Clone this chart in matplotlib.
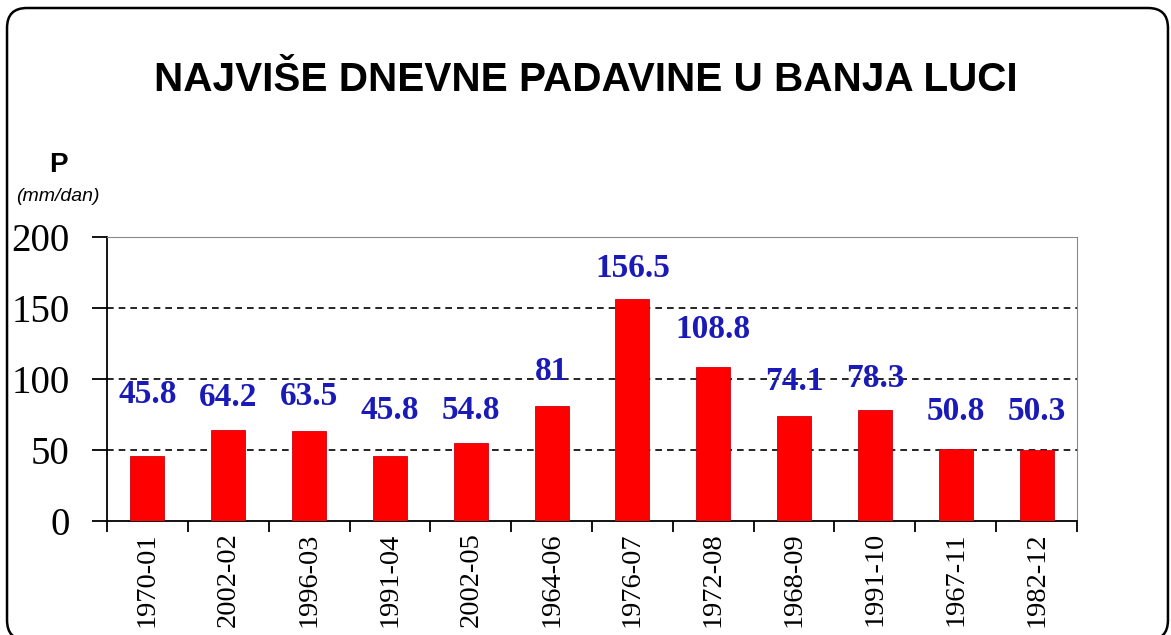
import matplotlib
matplotlib.use("Agg")
import matplotlib.pyplot as plt
from matplotlib.patches import FancyBboxPatch
import numpy as np

# Largest daily precipitation per month, Banja Luka
months = ["1970-01", "2002-02", "1996-03", "1991-04", "2002-05", "1964-06",
          "1976-07", "1972-08", "1968-09", "1991-10", "1967-11", "1982-12"]
precip = [45.8, 64.2, 63.5, 45.8, 54.8, 81, 156.5, 108.8, 74.1, 78.3, 50.8, 50.3]
value_labels = ["45.8", "64.2", "63.5", "45.8", "54.8", "81", "156.5",
                "108.8", "74.1", "78.3", "50.8", "50.3"]
# how far above each bar its label sits (data units), as in the original
label_lift = [43, 23, 24, 32, 23, 24, 21.5, 26, 24, 22, 26, 26.5]
y_ticks = [0, 50, 100, 150, 200]

fig = plt.figure(figsize=(11.71, 6.35), dpi=100)
fig.patch.set_facecolor("white")

# rounded frame around the whole chart (bottom edge runs off the image)
frame = FancyBboxPatch((0.006, -0.008), 0.9914, 0.9954,
                       boxstyle="round,pad=0,rounding_size=0.017",
                       transform=fig.transFigure, facecolor="none",
                       edgecolor="black", linewidth=1.8, mutation_aspect=1.84)
fig.patches.append(frame)

ax = fig.add_axes([0.0914, 0.1795, 0.8283, 0.4473])
x = np.arange(len(months))
ax.bar(x, precip, width=0.42, color="#ff0000", edgecolor="#d00010",
       linewidth=0.6, zorder=3)

for xi, v, lab, lift in zip(x, precip, value_labels, label_lift):
    ax.text(xi, v + lift, lab, ha="center", va="center", color="#1a1ab8",
            fontsize=24, fontweight="bold", family="Liberation Serif", zorder=4)

ax.set_xlim(-0.5, len(months) - 0.5)
ax.set_ylim(0, 200)
ax.set_yticks(y_ticks)
ax.set_yticklabels([str(t) for t in y_ticks], family="Liberation Serif",
                   fontsize=28)
ax.tick_params(axis="y", length=11, width=1.3, pad=16, direction="out")

ax.set_xticks(x)
ax.set_xticklabels(months, rotation=90, family="Liberation Serif",
                   fontsize=20.5)
ax.tick_params(axis="x", which="major", length=0, pad=8)
ax.set_xticks(np.arange(-0.5, len(months)), minor=True)
ax.tick_params(axis="x", which="minor", length=8, width=1.3, direction="out")

for g in y_ticks[1:-1]:
    ax.axhline(g, color="black", linestyle=(0, (4, 3)), linewidth=1.2, zorder=1)

ax.spines["left"].set_color("black")
ax.spines["left"].set_linewidth(1.3)
ax.spines["bottom"].set_color("black")
ax.spines["bottom"].set_linewidth(1.3)
ax.spines["top"].set_color("#8a8a8a")
ax.spines["right"].set_color("#8a8a8a")

fig.text(0.5, 0.874, "NAJVIŠE DNEVNE PADAVINE U BANJA LUCI",
         ha="center", va="center", fontsize=29.2, fontweight="bold",
         family="Liberation Sans")
fig.text(0.0495, 0.74, "P", ha="center", va="center", fontsize=20,
         fontweight="bold", family="Liberation Sans")
fig.text(0.049, 0.69, "(mm/dan)", ha="center", va="center", fontsize=14,
         style="italic", family="Liberation Sans")

fig.savefig("out.png", dpi=100, facecolor="white")
